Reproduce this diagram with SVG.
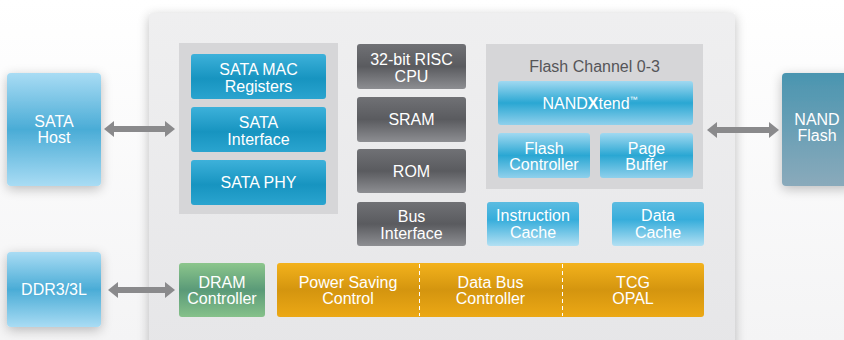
<svg xmlns="http://www.w3.org/2000/svg" width="844" height="340" viewBox="0 0 844 340">
<defs>
<linearGradient id="bg" x1="0" y1="0" x2="0" y2="1"><stop offset="0" stop-color="#ffffff"/><stop offset="1" stop-color="#f4f4f5"/></linearGradient>
<linearGradient id="panel" x1="0" y1="0" x2="0" y2="1"><stop offset="0" stop-color="#efeff0"/><stop offset="1" stop-color="#e6e6e8"/></linearGradient>
<linearGradient id="ext" x1="0" y1="0" x2="0" y2="1"><stop offset="0" stop-color="#a9dcf4"/><stop offset="0.5" stop-color="#4aacd6"/><stop offset="1" stop-color="#a9dcf4"/></linearGradient>
<linearGradient id="nand" x1="0" y1="0" x2="0" y2="1"><stop offset="0" stop-color="#4a95b0"/><stop offset="1" stop-color="#8aaabb"/></linearGradient>
<linearGradient id="blue" x1="0" y1="0" x2="0" y2="1"><stop offset="0" stop-color="#3db1da"/><stop offset="0.55" stop-color="#1794c0"/><stop offset="1" stop-color="#2aa4cf"/></linearGradient>
<linearGradient id="lblue" x1="0" y1="0" x2="0" y2="1"><stop offset="0" stop-color="#a0d9f1"/><stop offset="0.5" stop-color="#2aa7d3"/><stop offset="1" stop-color="#8fd0ec"/></linearGradient>
<linearGradient id="cache" x1="0" y1="0" x2="0" y2="1"><stop offset="0" stop-color="#5cbce1"/><stop offset="0.4" stop-color="#36addb"/><stop offset="1" stop-color="#b3e0f3"/></linearGradient>
<linearGradient id="gray" x1="0" y1="0" x2="0" y2="1"><stop offset="0" stop-color="#707175"/><stop offset="0.5" stop-color="#5a5b5f"/><stop offset="1" stop-color="#8d8e92"/></linearGradient>
<linearGradient id="orange" x1="0" y1="0" x2="0" y2="1"><stop offset="0" stop-color="#f3b21c"/><stop offset="0.5" stop-color="#d4950f"/><stop offset="1" stop-color="#eca815"/></linearGradient>
<linearGradient id="green" x1="0" y1="0" x2="0" y2="1"><stop offset="0" stop-color="#8cc68c"/><stop offset="0.5" stop-color="#5a9a78"/><stop offset="1" stop-color="#86c18a"/></linearGradient>
<filter id="sh" x="-20%" y="-20%" width="140%" height="140%"><feGaussianBlur in="SourceAlpha" stdDeviation="6"/><feOffset dx="0" dy="3"/><feComponentTransfer><feFuncA type="linear" slope="0.25"/></feComponentTransfer><feMerge><feMergeNode/><feMergeNode in="SourceGraphic"/></feMerge></filter>
<marker id="ah" viewBox="0 0 10 16" refX="1" refY="8" markerWidth="10" markerHeight="16" markerUnits="userSpaceOnUse" orient="auto-start-reverse"><path d="M0,0 L10,8 L0,16 Z" fill="#8a8a8c"/></marker>
</defs>
<style>
text{font-family:"Liberation Sans",Arial,sans-serif;font-size:16px;fill:#ffffff;text-anchor:middle}
.title{fill:#555558}
.dash{stroke:#ffffff;stroke-width:1;stroke-dasharray:4,3}
.conn{stroke:#8a8a8c;stroke-width:6;fill:none}
</style>
<rect width="844" height="340" fill="url(#bg)"/>
<rect x="149" y="13" width="586" height="340" rx="3" fill="url(#panel)" filter="url(#sh)"/>

<g id="sata-group"><rect x="179" y="43" width="159" height="171" fill="#d6d6d8"/></g>
<g id="sata-mac"><rect x="191" y="54" width="135" height="45" rx="3" fill="url(#blue)"/><text x="258.5" y="75">SATA MAC</text><text x="258.5" y="92">Registers</text></g>
<g id="sata-if"><rect x="191" y="107" width="135" height="45" rx="3" fill="url(#blue)"/><text x="258.5" y="128">SATA</text><text x="258.5" y="145">Interface</text></g>
<g id="sata-phy"><rect x="191" y="160" width="135" height="45" rx="3" fill="url(#blue)"/><text x="258.5" y="188">SATA PHY</text></g>

<g id="cpu"><rect x="357" y="44" width="109" height="45" rx="3" fill="url(#gray)"/><text x="411.5" y="65">32-bit RISC</text><text x="411.5" y="82">CPU</text></g>
<g id="sram"><rect x="357" y="97" width="109" height="45" rx="3" fill="url(#gray)"/><text x="411.5" y="125">SRAM</text></g>
<g id="rom"><rect x="357" y="149" width="109" height="44" rx="3" fill="url(#gray)"/><text x="411.5" y="177">ROM</text></g>
<g id="bus-if"><rect x="357" y="202" width="109" height="44" rx="3" fill="url(#gray)"/><text x="411.5" y="222">Bus</text><text x="411.5" y="239">Interface</text></g>

<g id="flash-channel"><rect x="486" y="44" width="217" height="145" fill="#d6d6d8"/><text class="title" x="594.5" y="72">Flash Channel 0-3</text></g>
<g id="nandxtend"><rect x="498" y="81" width="195" height="44" rx="3" fill="url(#lblue)"/><text x="590" y="109">NAND<tspan font-weight="bold">X</tspan>tend<tspan font-size="8" dy="-7">™</tspan></text></g>
<g id="flash-ctrl"><rect x="498" y="133" width="92" height="45" rx="3" fill="url(#lblue)"/><text x="544" y="154">Flash</text><text x="544" y="170">Controller</text></g>
<g id="page-buf"><rect x="600" y="133" width="93" height="45" rx="3" fill="url(#lblue)"/><text x="646.5" y="154">Page</text><text x="646.5" y="170">Buffer</text></g>

<g id="icache"><rect x="487" y="202" width="92" height="44" rx="3" fill="url(#cache)"/><text x="533" y="221">Instruction</text><text x="533" y="238">Cache</text></g>
<g id="dcache"><rect x="612" y="202" width="92" height="44" rx="3" fill="url(#cache)"/><text x="658" y="221">Data</text><text x="658" y="238">Cache</text></g>

<g id="dram"><rect x="179" y="263" width="86" height="54" rx="3" fill="url(#green)"/><text x="222" y="288">DRAM</text><text x="222" y="304">Controller</text></g>
<g id="bus-bar"><rect x="277" y="263" width="427" height="54" rx="3" fill="url(#orange)"/>
<line class="dash" x1="419.5" y1="264" x2="419.5" y2="316"/><line class="dash" x1="562.5" y1="264" x2="562.5" y2="316"/>
<text x="348" y="288">Power Saving</text><text x="348" y="304">Control</text>
<text x="490.5" y="288">Data Bus</text><text x="490.5" y="304">Controller</text>
<text x="633" y="288">TCG</text><text x="633" y="304">OPAL</text></g>

<g id="sata-host"><rect x="7" y="73" width="94" height="113" rx="4" fill="url(#ext)" filter="url(#sh)"/><text x="54" y="127">SATA</text><text x="54" y="143">Host</text></g>
<g id="ddr"><rect x="7" y="252" width="94" height="75" rx="4" fill="url(#ext)" filter="url(#sh)"/><text x="54" y="295">DDR3/3L</text></g>
<g id="nand-flash"><rect x="782" y="73" width="70" height="113" rx="4" fill="url(#nand)" filter="url(#sh)"/><text x="817" y="125">NAND</text><text x="817" y="141">Flash</text></g>

<g id="connectors">
<line class="conn" x1="113" y1="129" x2="166" y2="129" marker-start="url(#ah)" marker-end="url(#ah)"/>
<line class="conn" x1="117" y1="290" x2="166" y2="290" marker-start="url(#ah)" marker-end="url(#ah)"/>
<line class="conn" x1="716" y1="130" x2="770" y2="130" marker-start="url(#ah)" marker-end="url(#ah)"/>
</g>
</svg>
